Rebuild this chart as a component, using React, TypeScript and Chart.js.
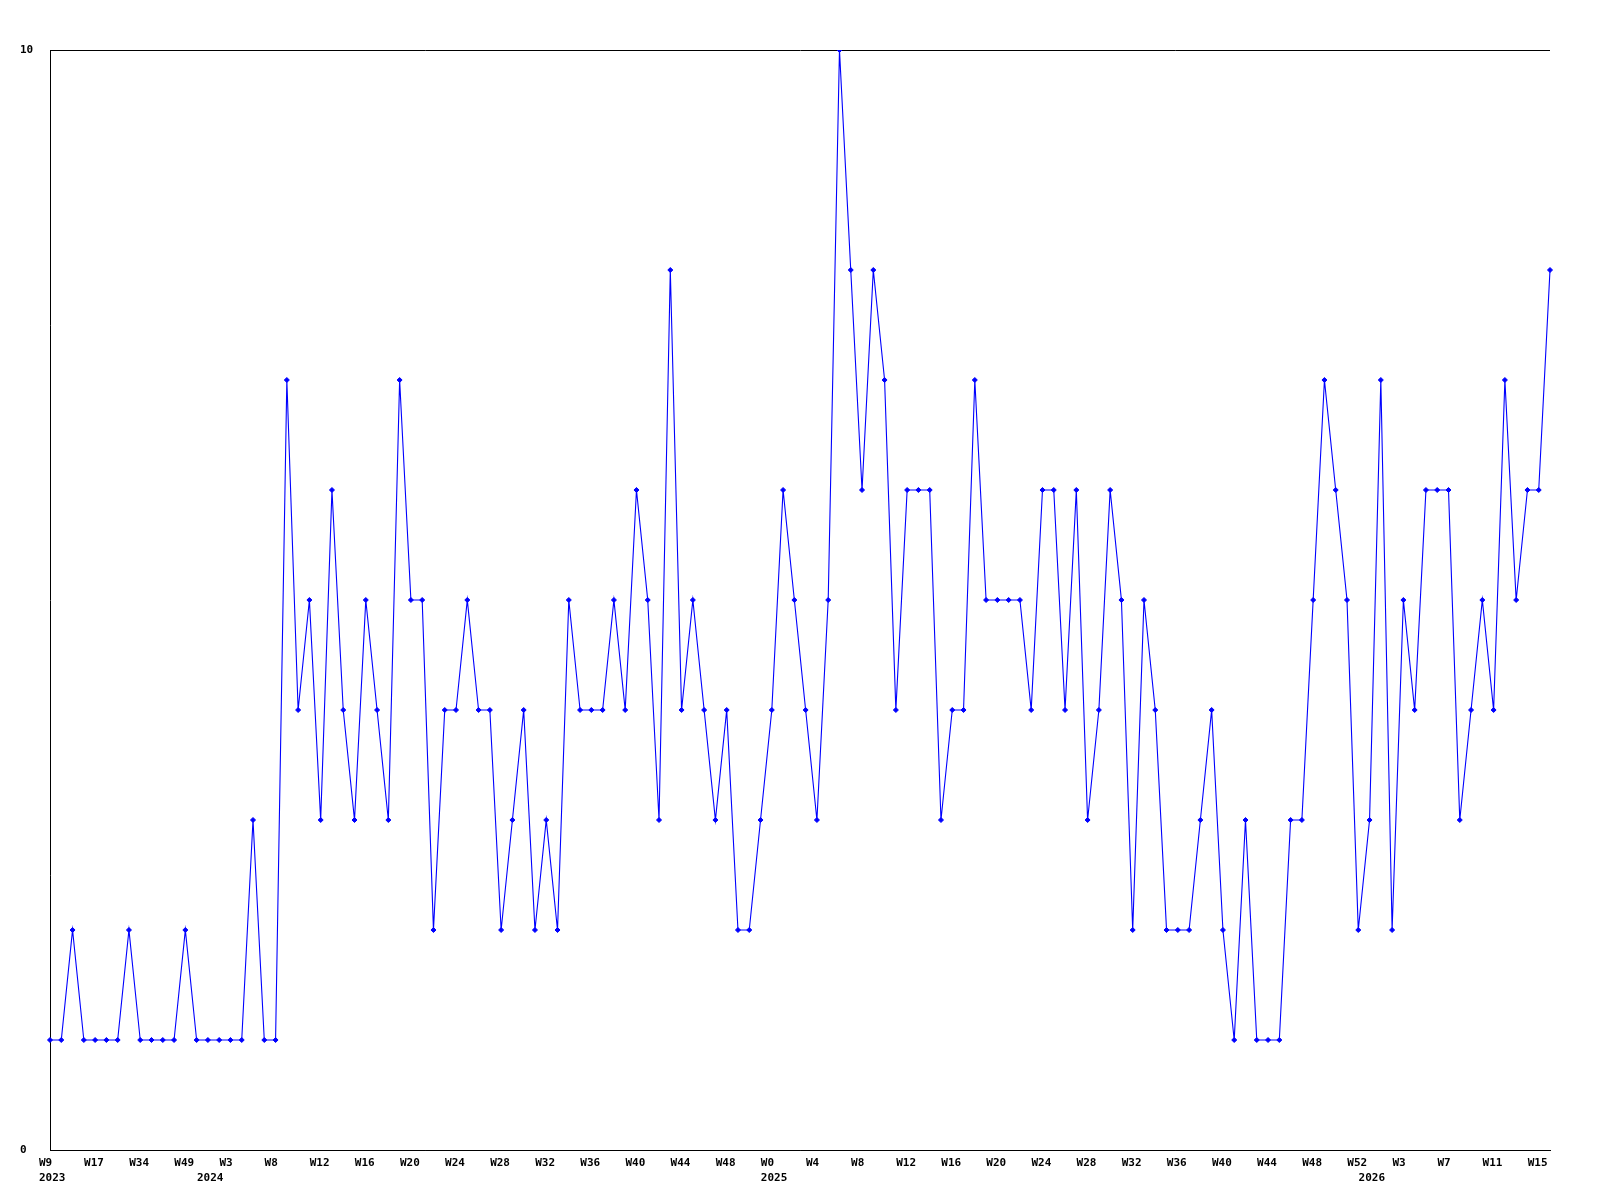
import React, { useEffect, useRef } from "react";
import { Chart, registerables } from "chart.js";

Chart.register(...registerables);

// Weekly values, in order from left to right
const values: number[] = [
  1, 1, 2, 1, 1, 1, 1, 2, 1, 1, 1, 1, 2, 1, 1, 1, 1, 1, 3, 1,
  1, 7, 4, 5, 3, 6, 4, 3, 5, 4, 3, 7, 5, 5, 2, 4, 4, 5, 4, 4,
  2, 3, 4, 2, 3, 2, 5, 4, 4, 4, 5, 4, 6, 5, 3, 8, 4, 5, 4, 3,
  4, 2, 2, 3, 4, 6, 5, 4, 3, 5, 10, 8, 6, 8, 7, 4, 6, 6, 6, 3,
  4, 4, 7, 5, 5, 5, 5, 4, 6, 6, 4, 6, 3, 4, 6, 5, 2, 5, 4, 2,
  2, 2, 3, 4, 2, 1, 3, 1, 1, 1, 3, 3, 5, 7, 6, 5, 2, 3, 7, 2,
  5, 4, 6, 6, 6, 3, 4, 5, 4, 7, 5, 6, 6, 8,
];

// Week tick labels, shown on every fourth point
const weekTicks: string[] = [
  "W9", "W17", "W34", "W49", "W3", "W8", "W12", "W16", "W20", "W24",
  "W28", "W32", "W36", "W40", "W44", "W48", "W0", "W4", "W8", "W12",
  "W16", "W20", "W24", "W28", "W32", "W36", "W40", "W44", "W48", "W52",
  "W3", "W7", "W11", "W15",
];
const weekTickStep = 4;

// Year labels and the point index where each year starts
const yearLabels: string[] = ["2023", "2024", "2025", "2026"];
const yearStartIndex: number[] = [0, 14, 64, 117];

// Y axis ticks
const yTicks: number[] = [0, 10];

const categories: string[] = values.map((_, i) => String(i));

export default function App() {
  const canvasRef = useRef<HTMLCanvasElement | null>(null);

  useEffect(() => {
    const canvas = canvasRef.current;
    if (!canvas) return;
    const font = { family: "'DejaVu Sans Mono', 'Liberation Mono', monospace", size: 11, weight: "bold" as const, lineHeight: "15.5px" };
    const chart = new Chart(canvas, {
      type: "line",
      data: {
        labels: categories,
        datasets: [
          {
            data: values,
            borderColor: "#0000ff",
            backgroundColor: "#0000ff",
            borderWidth: 1.1,
            tension: 0,
            fill: false,
            pointStyle: "rectRot",
            pointRadius: 2.5,
            pointBorderWidth: 1,
            pointBorderColor: "#0000ff",
            pointBackgroundColor: "#0000ff",
          },
        ],
      },
      options: {
        animation: false,
        responsive: false,
        devicePixelRatio: 1,
        layout: { padding: { left: 20, top: 50, right: 50, bottom: 0 } },
        plugins: { legend: { display: false }, tooltip: { enabled: false } },
        scales: {
          x: {
            type: "category",
            offset: false,
            grid: { display: false, drawTicks: false },
            border: { display: true, color: "#000000", width: 1 },
            ticks: {
              autoSkip: false,
              maxRotation: 0,
              minRotation: 0,
              align: "start",
              labelOffset: -11,
              padding: 5,
              color: "#000000",
              font,
              callback: (_v: any, index: number) => {
                const w = index % weekTickStep === 0 ? weekTicks[index / weekTickStep] || "" : "";
                const yi = yearStartIndex.indexOf(index);
                if (yi >= 0) return [w, yearLabels[yi]];
                return w;
              },
            },
            afterFit: (scale: any) => {
              scale.height = 50;
            },
          },
          y: {
            min: 0,
            max: 10,
            grid: { display: true, color: "#000000", lineWidth: 1, drawTicks: false },
            border: { display: true, color: "#000000", width: 1 },
            afterBuildTicks: (scale: any) => {
              scale.ticks = yTicks.map((v) => ({ value: v }));
            },
            ticks: {
              crossAlign: "far",
              color: "#000000",
              font,
              padding: 0,
            },
            afterFit: (scale: any) => {
              scale.width = 30;
            },
          },
        },
      },
    });
    return () => chart.destroy();
  }, []);

  return (
    <div style={{ position: "absolute", left: 0, top: 0, width: 1600, height: 1200, background: "#ffffff" }}>
      <canvas ref={canvasRef} width={1600} height={1200} style={{ display: "block" }} />
    </div>
  );
}
